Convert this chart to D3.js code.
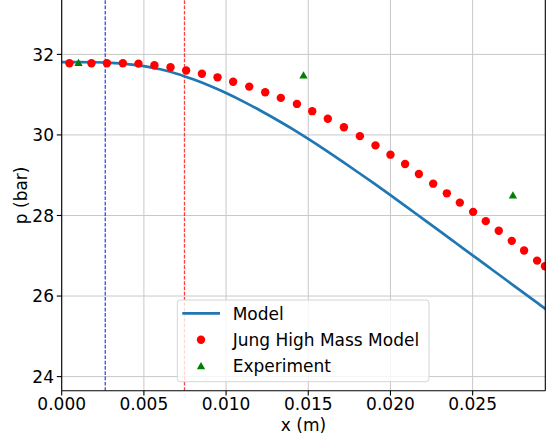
<!DOCTYPE html>
<html><head><meta charset="utf-8">
<script src="https://cdn.jsdelivr.net/npm/d3@7"></script>
<style>body{margin:0;background:#fff}svg{display:block}text{font-family:"DejaVu Sans",sans-serif;fill:#000}</style>
</head><body><svg id="c" width="546" height="442"></svg>
<script>
// ---- data ----
const modelX = [0,0.001,0.002,0.003,0.004,0.005,0.006,0.007,0.008,0.009,0.010,0.011,0.012,0.013,0.014,0.015,0.016,0.017,0.018,0.019,0.020,0.021,0.022,0.023,0.024,0.025,0.026,0.027,0.028,0.029,0.0296];
const modelP = [31.81,31.81,31.805,31.79,31.76,31.71,31.63,31.52,31.38,31.22,31.04,30.84,30.625,30.395,30.155,29.90,29.635,29.36,29.08,28.795,28.505,28.21,27.91,27.61,27.31,27.01,26.71,26.41,26.11,25.81,25.63];
const jungX = [0.00047,0.00181,0.00275,0.00372,0.00467,0.00564,0.00662,0.00757,0.00853,0.00948,0.01043,0.01141,0.01238,0.01333,0.01431,0.01524,0.01619,0.01717,0.01814,0.01909,0.02000,0.02089,0.02173,0.02260,0.02343,0.02422,0.02503,0.02580,0.02659,0.02738,0.02813,0.02892,0.02940];
const jungP = [31.78,31.78,31.78,31.78,31.77,31.73,31.68,31.60,31.52,31.43,31.32,31.20,31.06,30.92,30.77,30.59,30.40,30.19,29.97,29.74,29.51,29.28,29.03,28.79,28.55,28.32,28.09,27.86,27.62,27.37,27.13,26.88,26.74];
const expX = [0.00102,0.01471,0.02745];
const expP = [31.79,31.48,28.50];
const vlineX = [0.00265,0.00747];
const vlineColors = ["#0000ff","#ff0000"];
const xTicks = [0,0.005,0.010,0.015,0.020,0.025];
const yTicks = [24,26,28,30,32];
const seriesNames = ["Model","Jung High Mass Model","Experiment"];

// ---- layout ----
const L = 61.7, R = 545.3, T = 0, B = 390.7;
const svg = d3.select("#c");
const x = d3.scaleLinear().domain([0, 0.02942]).range([L, R]);
const y = d3.scaleLinear().domain([23.65, 33.35]).range([B, T]);

svg.append("defs").append("clipPath").attr("id","clip")
  .append("rect").attr("x",L).attr("y",T-5).attr("width",R-L).attr("height",B-T+5);

// grid
const grid = svg.append("g");
grid.selectAll("line.gx").data(xTicks).enter().append("line")
  .attr("x1",d=>x(d)).attr("x2",d=>x(d)).attr("y1",T-5).attr("y2",B)
  .attr("stroke","#c8c8c8").attr("stroke-width",1);
grid.selectAll("line.gy").data(yTicks).enter().append("line")
  .attr("x1",L).attr("x2",R).attr("y1",d=>y(d)).attr("y2",d=>y(d))
  .attr("stroke","#c8c8c8").attr("stroke-width",1);

const plot = svg.append("g").attr("clip-path","url(#clip)");

// vertical dashed lines
plot.selectAll("line.v").data(vlineX).enter().append("line")
  .attr("x1",d=>x(d)).attr("x2",d=>x(d)).attr("y1",T-5).attr("y2",B)
  .attr("stroke",(d,i)=>vlineColors[i]).attr("stroke-opacity",0.75)
  .attr("stroke-width",1.3).attr("stroke-dasharray","3.7,1.6");

// model line
const modelData = modelX.map((d,i)=>[d,modelP[i]]);
plot.append("path").datum(modelData)
  .attr("d", d3.line().x(d=>x(d[0])).y(d=>y(d[1])).curve(d3.curveMonotoneX))
  .attr("fill","none").attr("stroke","#1f77b4").attr("stroke-width",2.7);

// Jung dots
plot.selectAll("circle.j").data(jungX.map((d,i)=>[d,jungP[i]])).enter().append("circle")
  .attr("cx",d=>x(d[0])).attr("cy",d=>y(d[1])).attr("r",4.2).attr("fill","#ff0000");

// Experiment triangles
const tri = d3.symbol().type(d3.symbolTriangle).size(30);
plot.selectAll("path.e").data(expX.map((d,i)=>[d,expP[i]])).enter().append("path")
  .attr("d",tri).attr("transform",d=>`translate(${x(d[0])},${y(d[1])+0.8})`).attr("fill","#008000");

// axes spines
svg.append("line").attr("x1",L).attr("x2",L).attr("y1",T-5).attr("y2",B).attr("stroke","#000").attr("stroke-width",1.1);
svg.append("line").attr("x1",L).attr("x2",R).attr("y1",B).attr("y2",B).attr("stroke","#000").attr("stroke-width",1.1);
svg.append("line").attr("x1",R).attr("x2",R).attr("y1",T-5).attr("y2",B).attr("stroke","#000").attr("stroke-width",1.1);

// ticks
const fmtX = d3.format(".3f");
const xt = svg.append("g").selectAll("g").data(xTicks).enter().append("g");
xt.append("line").attr("x1",d=>x(d)).attr("x2",d=>x(d)).attr("y1",B).attr("y2",B+4.9).attr("stroke","#000").attr("stroke-width",1.1);
xt.append("text").attr("x",d=>x(d)).attr("y",410).attr("text-anchor","middle").attr("font-size",17).text(d=>fmtX(d));
const yt = svg.append("g").selectAll("g").data(yTicks).enter().append("g");
yt.append("line").attr("x1",L-4.9).attr("x2",L).attr("y1",d=>y(d)).attr("y2",d=>y(d)).attr("stroke","#000").attr("stroke-width",1.1);
yt.append("text").attr("x",54).attr("y",d=>y(d)+6.2).attr("text-anchor","end").attr("font-size",17).text(d=>d);

// axis labels
svg.append("text").attr("x",(L+R)/2).attr("y",430.5).attr("text-anchor","middle").attr("font-size",17).text("x (m)");
svg.append("text").attr("transform",`translate(26.5,${(T+B)/2}) rotate(-90)`).attr("text-anchor","middle").attr("font-size",17).text("p (bar)");

// legend
const lg = svg.append("g");
lg.append("rect").attr("x",177.3).attr("y",300).attr("width",251.7).attr("height",81.7).attr("rx",3)
  .attr("fill","#fff").attr("fill-opacity",0.8).attr("stroke","#d5d5d5").attr("stroke-width",1);
const rowY = [313.3, 339.7, 366];
lg.append("line").attr("x1",182.3).attr("x2",220).attr("y1",rowY[0]).attr("y2",rowY[0]).attr("stroke","#1f77b4").attr("stroke-width",2.7);
lg.append("circle").attr("cx",201).attr("cy",rowY[1]).attr("r",4.2).attr("fill","#ff0000");
lg.append("path").attr("d",tri).attr("transform",`translate(201,${rowY[2]+0.8})`).attr("fill","#008000");
lg.selectAll("text").data(seriesNames).enter().append("text")
  .attr("x",232.7).attr("y",(d,i)=>rowY[i]+6.2).attr("font-size",17).text(d=>d);
</script></body></html>
